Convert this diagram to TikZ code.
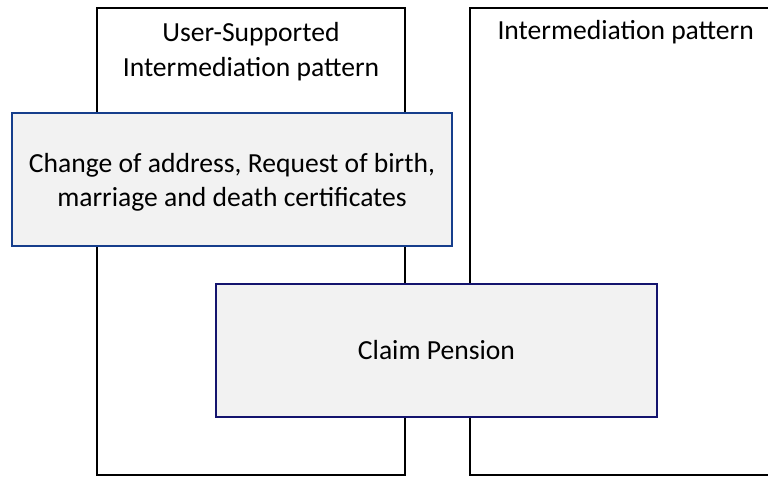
\documentclass[tikz,border=0pt]{standalone}
\usepackage{fontspec}
\setmainfont{Carlito}
\definecolor{edgeA}{RGB}{22,62,140}
\definecolor{edgeB}{RGB}{20,20,110}
\definecolor{taskfill}{RGB}{242,242,242}
\begin{document}
\begin{tikzpicture}[x=1pt,y=-1pt,
  pat/.style={draw=black,line width=2pt,fill=white},
  task/.style={line width=2pt,fill=taskfill,align=center,inner sep=0pt,
    font=\fontsize{27.6}{34}\selectfont},
  lbl/.style={font=\fontsize{27.6}{35}\selectfont,align=center}]
\useasboundingbox (0,0) rectangle (768,477);
\draw[pat] (97,8) rectangle (405,475);
\draw[pat] (470,8) rectangle (790,475);
\node[lbl] (t1) at (251,51.5) {User-Supported\\Intermediation pattern};
\node[lbl,anchor=west] (t2) at (494,32) {Intermediation pattern};
\node[task,draw=edgeA,minimum width=440pt,minimum height=133pt] (a) at (232,179.5) {};
\node[task,align=center] (atext) at (232,182) {Change of address, Request of birth,\\marriage and death certificates};
\node[task,draw=edgeB,minimum width=441pt,minimum height=133pt] (b) at (436.5,350.5) {Claim Pension};
\end{tikzpicture}
\end{document}
